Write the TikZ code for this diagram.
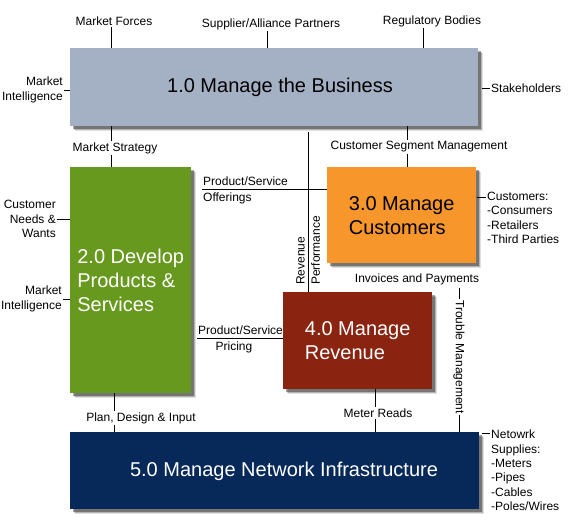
\documentclass[tikz,border=0pt]{standalone}
\usepackage{fontspec}
\setmainfont{Liberation Sans}
\usetikzlibrary{shadows}
\definecolor{bizblue}{HTML}{A4B0C4}
\definecolor{devgreen}{HTML}{66991E}
\definecolor{custorange}{HTML}{F7962B}
\definecolor{revred}{HTML}{8A2410}
\definecolor{netnavy}{HTML}{06295A}
\begin{document}
\begin{tikzpicture}[x=1pt,y=-1pt,
  box/.style={draw=none, inner sep=0pt, anchor=north west,
    font=\fontsize{20}{24}\selectfont, align=left,
    drop shadow={shadow xshift=5pt, shadow yshift=-5pt, fill=black, opacity=0.12},
    drop shadow={shadow xshift=4pt, shadow yshift=-4pt, fill=black, opacity=0.2},
    drop shadow={shadow xshift=3pt, shadow yshift=-3pt, fill=black, opacity=0.35}},
  lbl/.style={font=\fontsize{12}{14.3}\selectfont, inner sep=1pt},
  conn/.style={draw=black, line width=0.8pt}]
\useasboundingbox (0,0) rectangle (574,527);

% boxes
\node[box, fill=bizblue, minimum width=408pt, minimum height=78pt] (b1) at (70,48) {};
\node at (280,87) [font=\fontsize{20}{24}\selectfont] (t1) {1.0 Manage the Business};
\node[box, fill=devgreen, text=white, minimum width=121pt, minimum height=226pt] (b2) at (70,167) {2.0 Develop\\Products \&\\Services};
\node[box, fill=custorange, minimum width=149pt, minimum height=96pt] (b3) at (327,167) {3.0 Manage\\Customers};
\node[box, fill=revred, text=white, minimum width=149pt, minimum height=97pt] (b4) at (283,292) {4.0 Manage\\Revenue};
\node[box, fill=netnavy, minimum width=409pt, minimum height=77pt] (b5) at (70,432) {};
\node at (284,471) [font=\fontsize{20}{24}\selectfont, text=white] (t5) {5.0 Manage Network Infrastructure};

% top labels
\node[lbl] (mf) at (114,21) {Market Forces};
\node[lbl] (sap) at (271,24) {Supplier/Alliance Partners};
\node[lbl] (rb) at (432,21) {Regulatory Bodies};
\draw[conn] (mf.south -| 111,0) -- (111,0 |- b1.north);
\draw[conn] (sap.south -| 267,0) -- (267,0 |- b1.north);
\draw[conn] (rb.south -| 423,0) -- (423,0 |- b1.north);

% left of box 1
\node[lbl, align=right, anchor=east] (mi1) at (64,90) {Market\\Intelligence};
\draw[conn] (mi1.east) -- (mi1.east -| b1.west);

% stakeholders
\node[lbl, anchor=west] (sh) at (490,88) {Stakeholders};
\draw[conn] (sh.west) -- ++(-8,0);

% market strategy
\node[lbl] (ms) at (115,148) {Market Strategy};
\draw[conn] (111,0 |- b1.south) -- (111,0 |- ms.north);
\draw[conn] (111,0 |- ms.south) -- (111,0 |- b2.north);

% customer segment management
\node[lbl] (csm) at (419,147) {Customer Segment Management};
\draw[conn] (407,0 |- b1.south) -- (407,0 |- csm.north);
\draw[conn] (407,0 |- csm.south) -- (407,0 |- b3.north);

% revenue performance
\coordinate (rp) at (308,132);
\draw[conn] (rp) -- (rp |- b4.north);
\node[lbl, rotate=90, anchor=south west] (rev) at (306,286) {Revenue};
\node[lbl, rotate=90, anchor=north west] (perf) at (310,286) {Performance};

% product/service offerings
\coordinate (off) at (202,189);
\draw[conn] (off) -- (off -| b3.west);
\node[lbl, anchor=south west] (ps1) at ([yshift=2.5pt]off) {Product/Service};
\node[lbl, anchor=north west] (offr) at ([yshift=-2.5pt]off) {Offerings};

% product/service pricing
\coordinate (pri) at (197,338);
\draw[conn] (pri) -- (pri -| b4.west);
\node[lbl, anchor=south west] (ps2) at ([yshift=2.5pt]pri) {Product/Service};
\node[lbl, anchor=north] (pric) at ([yshift=-2.5pt]234,338) {Pricing};

% left of box 2
\node[lbl, align=right, anchor=east] (cnw) at (57,219) {Customer\\Needs \&\\Wants};
\draw[conn] (cnw.east) -- (cnw.east -| b2.west);
\node[lbl, align=right, anchor=east] (mi2) at (63,299) {Market\\Intelligence};
\draw[conn] (mi2.east) -- (mi2.east -| b2.west);

% customers
\coordinate (cu) at (486,197);
\node[lbl, align=left, anchor=north west] (cust) at (486,191) {Customers:\\-Consumers\\-Retailers\\-Third Parties};
\draw[conn] (cu) -- ++(-9,0);

% invoices
\node[lbl] (inv) at (417,279) {Invoices and Payments};

% trouble management
\node[lbl, rotate=-90] (tm) at (459,357) {Trouble Management};
\draw[conn] (tm.west) -- (459,288);
\draw[conn] (tm.east) -- (tm.east |- b5.north);

% meter reads
\node[lbl] (mr) at (378,413) {Meter Reads};
\draw[conn] (375,0 |- b4.south) -- (375,0 |- mr.north);
\draw[conn] (375,0 |- mr.south) -- (375,0 |- b5.north);

% plan design input
\node[lbl] (pdi) at (141,418) {Plan, Design \& Input};
\draw[conn] (114,0 |- b2.south) -- (114,0 |- pdi.north);
\draw[conn] (114,0 |- pdi.south) -- (114,0 |- b5.north);

% network supplies
\node[lbl, align=left, anchor=north west] (ns) at (490,429) {Netowrk\\Supplies:\\-Meters\\-Pipes\\-Cables\\-Poles/Wires};
\draw[conn] (490,433) -- ++(-8,0);
\end{tikzpicture}
\end{document}
